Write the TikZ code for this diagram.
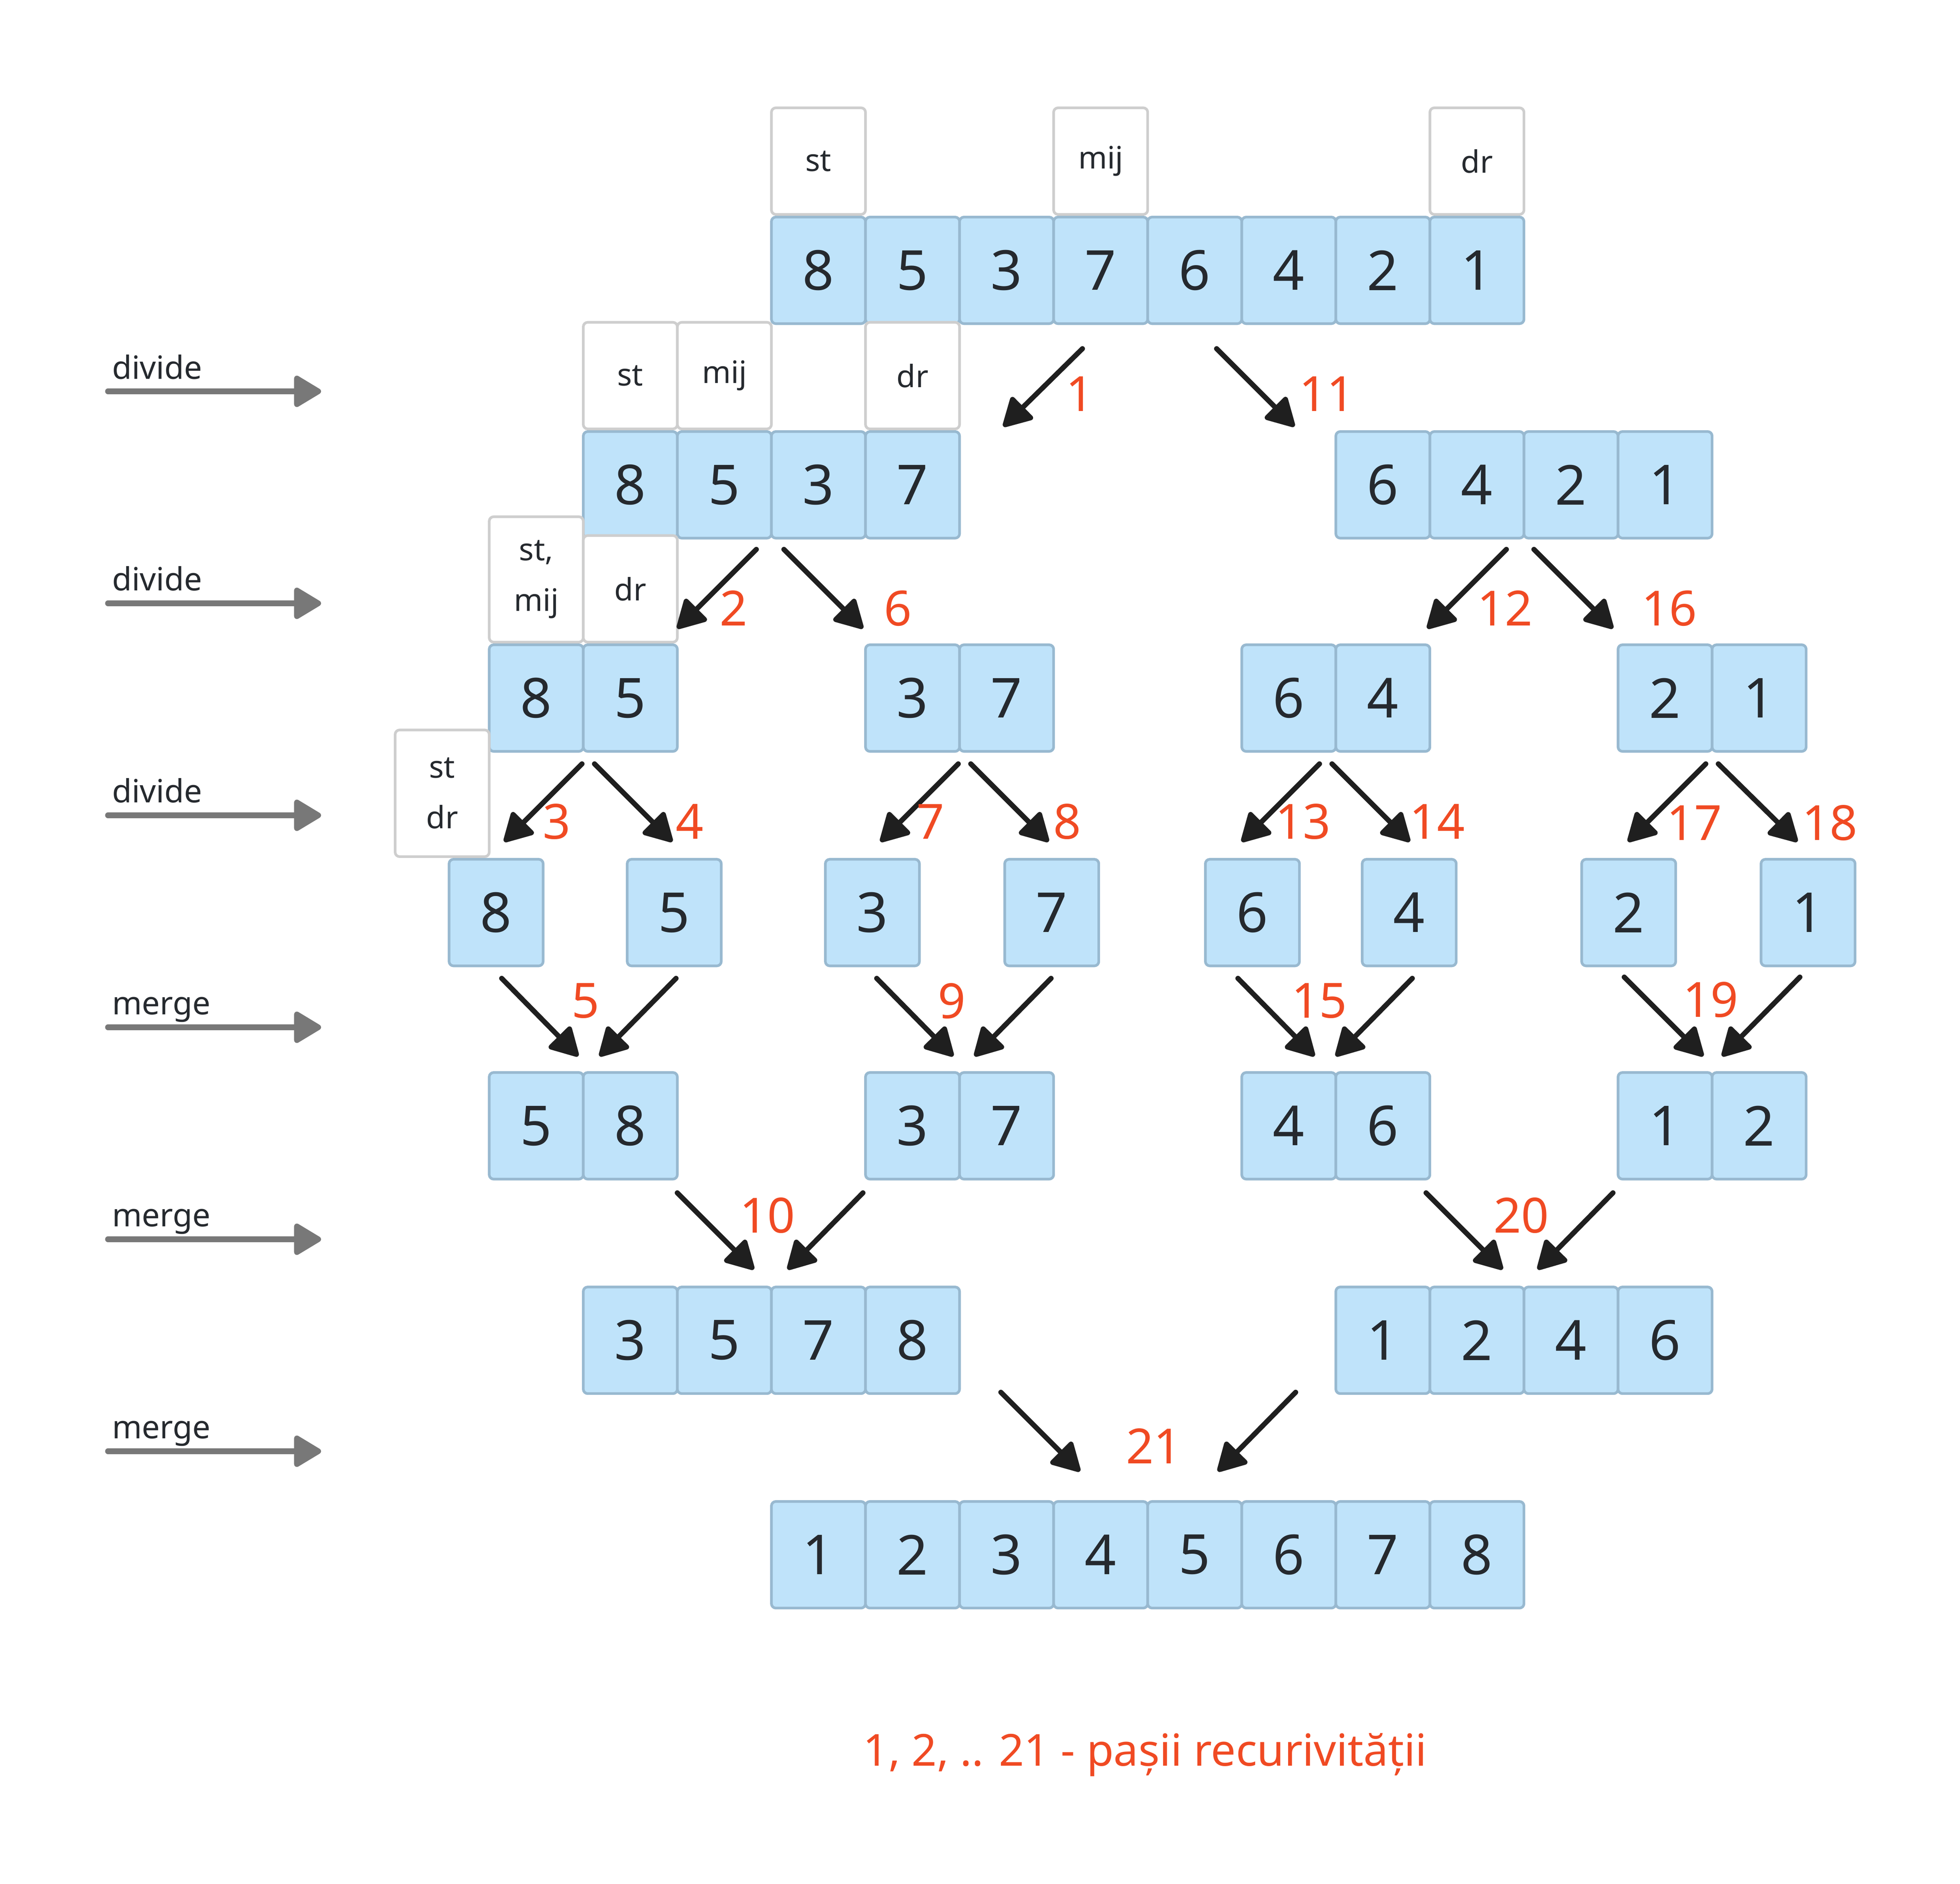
\documentclass[tikz,border=0pt]{standalone}
\usepackage{fontspec}
\setmainfont{Noto Sans}
\usetikzlibrary{%
  positioning
 ,arrows.meta
}
\definecolor{cellbg}{RGB}{191,227,250}
\definecolor{cellln}{RGB}{152,185,208}
\definecolor{lblln}{RGB}{206,206,206}
\definecolor{ink}{RGB}{37,41,46}
\definecolor{stepc}{RGB}{240,74,35}
\definecolor{phasec}{RGB}{120,120,120}
\definecolor{arrc}{RGB}{31,31,31}
\tikzstyle{ms}=[x=0.02cm,y=-0.02cm]
\tikzstyle{cell}=[draw=cellln,fill=cellbg,line width=1.2pt,rounded corners=2pt,minimum width=1.5cm,minimum height=1.7cm,inner sep=0pt,anchor=north west,text=ink,font=\fontsize{25}{30}\selectfont]
\tikzstyle{lbl}=[draw=lblln,fill=white,line width=1.2pt,rounded corners=2pt,minimum width=1.5cm,minimum height=1.7cm,inner sep=0pt,anchor=south west,align=center,text=ink,font=\fontsize{14}{23}\selectfont]
\tikzstyle{stepar}=[draw=arrc,line width=2.3pt,line cap=round,-{Triangle[length=14pt,width=15pt,round]}]
\tikzstyle{phasear}=[draw=phasec,line width=2.5pt,line cap=round,-{Triangle[length=13.5pt,width=15.5pt,round]}]
\tikzstyle{stepno}=[text=stepc,inner sep=0pt,font=\fontsize{22}{26}\selectfont]
\tikzstyle{phase}=[anchor=base west,inner sep=0pt,text=ink,font=\fontsize{14.5}{17}\selectfont]
\newcommand{\cellrow}[4]{%
  \foreach \v [count=\i] in {#4}
    \node[cell] (#1_\i) at ({#2+75*(\i-1)},#3) {\v};}

\begin{document}
\begin{tikzpicture}[ms]
  \useasboundingbox (0,0) rectangle (1562.7,1502);
% rows of the array
  \cellrow{a}{614}{172}{8,5,3,7,6,4,2,1}
  \cellrow{b}{464}{343}{8,5,3,7}
  \cellrow{c}{1064}{343}{6,4,2,1}
  \cellrow{d}{389}{513}{8,5}
  \cellrow{e}{689}{513}{3,7}
  \cellrow{f}{989}{513}{6,4}
  \cellrow{g}{1289}{513}{2,1}
  \foreach \v/\x [count=\i] in {8/357,5/499,3/657,7/800,6/960,4/1085,2/1260,1/1403}
    \node[cell] (h_\i) at (\x,684) {\v};
  \cellrow{k}{389}{854}{5,8}
  \cellrow{l}{689}{854}{3,7}
  \cellrow{m}{989}{854}{4,6}
  \cellrow{n}{1289}{854}{1,2}
  \cellrow{p}{464}{1025}{3,5,7,8}
  \cellrow{q}{1064}{1025}{1,2,4,6}
  \cellrow{r}{614}{1196}{1,2,3,4,5,6,7,8}
% st / mij / dr markers
  \node[lbl] (la_st)  at (614,172)  {st};
  \node[lbl] (la_mij) at (839,172)  {mij};
  \node[lbl] (la_dr)  at (1139,172) {dr};
  \node[lbl] (lb_st)  at (464,343)  {st};
  \node[lbl] (lb_mij) at (539,343)  {mij};
  \node[lbl] (lb_dr)  at (689,343)  {dr};
  \node[lbl,minimum height=2cm] (ld_stm) at (389,513) {st,\\mij};
  \node[lbl] (ld_dr)  at (464,513)  {dr};
  \node[lbl,minimum height=2.02cm] (lh_std) at (314,684) {st\\dr};
% divide / merge
  \foreach \t [count=\k] in {divide,divide,divide,merge,merge,merge} {
    \coordinate (ps_\k) at (86,{312+169*(\k-1)});
    \coordinate (pe_\k) at (256,{312+169*(\k-1)});
    \draw[phasear] (ps_\k) -- (pe_\k);
    \node[phase] (ph_\k) at (89,{302+169*(\k-1)}) {\t};
  }
% recursion steps
  \foreach \n/\xa/\ya/\xb/\yb in {1/863/278/800/340, 11/970/278/1032/340,
      2/603/438/540/501, 6/625/438/688/501, 12/1201/438/1138/501, 16/1223/438/1286/501,
      3/464/609/402/671, 4/474/609/536/671, 7/764/609/702/671, 8/774/609/836/671,
      13/1052/609/990/671, 14/1062/609/1124/671, 17/1360/609/1298/671, 18/1370/609/1433/671,
      5a/400/780/461/842, 5b/539/780/478/842, 9a/699/780/760/842, 9b/838/780/777/842,
      15a/987/780/1048/842, 15b/1126/780/1065/842, 19a/1295/779/1358/842, 19b/1435/779/1373/842,
      10a/540/951/601/1012, 10b/688/951/628/1012, 20a/1137/951/1198/1012, 20b/1286/951/1226/1012,
      21a/798/1110/861/1173, 21b/1033/1110/971/1173} {
    \coordinate (f_\n) at (\xa,\ya);
    \coordinate (t_\n) at (\xb,\yb);
    \draw[stepar] (f_\n) -- (t_\n);
  }
  \foreach \n/\x/\y in {1/861/314, 11/1058/314, 2/585/485, 6/716/485, 12/1200/485, 16/1331/485,
      3/444/655, 4/550/655, 7/742/655, 8/851/655, 13/1039/655, 14/1146/655, 17/1351/656, 18/1459/656,
      5/467/798, 9/759/798, 15/1052/798, 19/1364/797, 10/612/969, 20/1213/969, 21/920/1153}
    \node[stepno] (s_\n) at (\x,\y) {\n};
  \node[stepno,anchor=base,font=\fontsize{20}{24}\selectfont] (legend) at (913,1408) {1, 2, .. 21 - pașii recurivității};
\end{tikzpicture}
\end{document}
